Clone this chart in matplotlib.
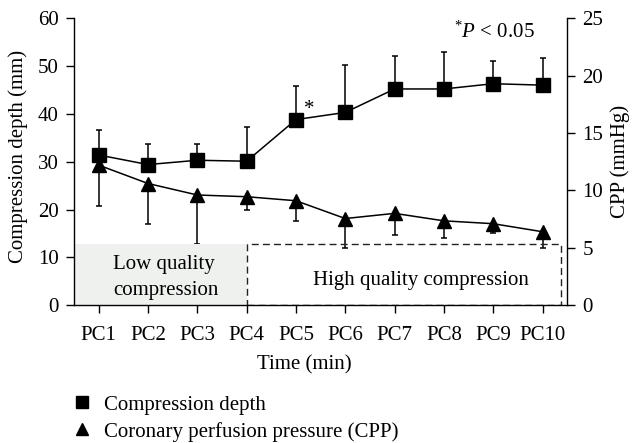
import matplotlib
matplotlib.use("Agg")
import matplotlib.pyplot as plt
from matplotlib.patches import Rectangle
from matplotlib.lines import Line2D
import numpy as np

plt.rcParams['font.family'] = ['Liberation Serif', 'DejaVu Serif']
plt.rcParams['mathtext.fontset'] = 'custom'
plt.rcParams['mathtext.rm'] = 'Liberation Serif'
plt.rcParams['mathtext.it'] = 'Liberation Serif:italic'

categories = ["PC1", "PC2", "PC3", "PC4", "PC5", "PC6", "PC7", "PC8", "PC9", "PC10"]
depth_mean = [31.4, 29.4, 30.3, 30.1, 38.8, 40.3, 45.2, 45.2, 46.3, 46.0]
depth_sd = [5.2, 4.2, 3.4, 7.2, 7.1, 9.9, 6.9, 7.8, 4.8, 5.7]
cpp_mean = [12.2, 10.6, 9.6, 9.45, 9.1, 7.55, 8.0, 7.35, 7.1, 6.4]
cpp_sd = [3.6, 3.5, 4.3, 1.2, 1.8, 2.6, 1.9, 1.5, 0.8, 1.4]
depth_ticks = [0, 10, 20, 30, 40, 50, 60]
cpp_ticks = [0, 5, 10, 15, 20, 25]

FS = 15

fig = plt.figure(figsize=(6.33, 4.43), dpi=100)
ax = fig.add_axes([0.117, 0.311, 0.779, 0.648])
ax2 = ax.twinx()

x = np.arange(1, len(categories) + 1)

# background regions
ax.add_patch(Rectangle((0.5, 0), 3.5, 12.9, facecolor='#eff1ef', edgecolor='none', zorder=0))
ax.add_patch(Rectangle((4, 0), 6.38, 12.9, facecolor='none', edgecolor='#222222',
                       linestyle=(0, (5, 3)), lw=1.0, zorder=1))
ax.text(2.33, 7.6, "Low quality", ha='center', va='baseline', fontsize=FS)
ax.text(2.36, 2.1, "compression", ha='center', va='baseline', fontsize=FS)
ax.text(7.54, 4.2, "High quality compression", ha='center', va='baseline', fontsize=FS)

ax.errorbar(x, depth_mean, yerr=[np.zeros(len(x)), depth_sd], fmt='-s', color='black',
            ms=10, lw=1.1, elinewidth=1.1, capsize=2.5, capthick=1.1, zorder=5)
ax2.errorbar(x, cpp_mean, yerr=[cpp_sd, np.zeros(len(x))], fmt='-^', color='black',
             ms=10, lw=1.1, elinewidth=1.1, capsize=2.5, capthick=1.1, zorder=5)

ax.text(5.27, 41.0, "*", fontsize=FS, ha='center', va='center')
ax.text(9.84, 56.0, r"$^{*}P$ < 0.05", fontsize=FS, ha='right', va='baseline')

ax.set_xlim(0.5, 10.5)
ax.set_ylim(0, 60)
ax2.set_ylim(0, 25)
ax.set_xticks(x)
ax.set_xticklabels(categories)
ax.set_yticks(depth_ticks)
ax2.set_yticks(cpp_ticks)

for a in (ax, ax2):
    a.spines['top'].set_visible(False)
    for s in a.spines.values():
        s.set_linewidth(1.0)
    a.tick_params(direction='out', length=6, width=1.0, labelsize=FS, pad=5)
ax.tick_params(axis='x', pad=9)
ax.spines['right'].set_visible(False)
ax2.spines['left'].set_visible(False)
ax2.spines['bottom'].set_visible(False)
ax.patch.set_visible(False)
ax.set_zorder(ax2.get_zorder() + 1)

ax.set_ylabel("Compression depth (mm)", fontsize=FS)
ax.yaxis.set_label_coords(-0.114, 0.52)
ax.yaxis.label.set_va('center')
ax2.set_ylabel("CPP (mmHg)", fontsize=FS)
ax2.yaxis.set_label_coords(1.108, 0.5)
ax2.yaxis.label.set_va('center')
ax.set_xlabel("Time (min)", fontsize=FS)
ax.xaxis.set_label_coords(0.466, -0.208)
ax.xaxis.label.set_va('center')

handles = [Line2D([], [], marker='s', color='black', ls='none', ms=9),
           Line2D([], [], marker='^', color='black', ls='none', ms=9)]
fig.legend(handles, ["Compression depth", "Coronary perfusion pressure (CPP)"],
           loc='upper left', bbox_to_anchor=(0.117, 0.1085), frameon=False,
           fontsize=FS, handlelength=0.8, handletextpad=0.62, labelspacing=0.35,
           borderaxespad=0, borderpad=0)

fig.savefig("out.png", dpi=100)
